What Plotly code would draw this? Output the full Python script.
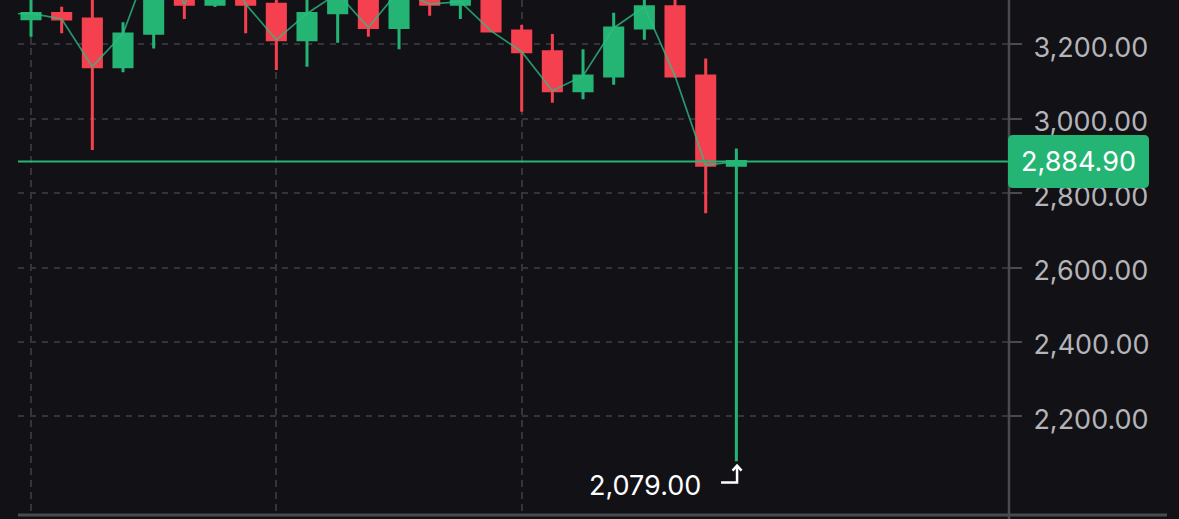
import plotly.graph_objects as go

# ---- data (daily candles; clipped values estimated) ----
dates = ["2025-01-10", "2025-01-11", "2025-01-12", "2025-01-13", "2025-01-14",
         "2025-01-15", "2025-01-16", "2025-01-17", "2025-01-18", "2025-01-19",
         "2025-01-20", "2025-01-21", "2025-01-22", "2025-01-23", "2025-01-24",
         "2025-01-25", "2025-01-26", "2025-01-27", "2025-01-28", "2025-01-29",
         "2025-01-30", "2025-01-31", "2025-02-01", "2025-02-02", "2025-02-03"]
opens = [3220, 3269, 3283, 3268, 3140, 3230, 3450, 3308, 3470, 3308, 3212, 3285,
         3337, 3245, 3345, 3308, 3316, 3236, 3180, 3075, 3115, 3244, 3301, 3115, 2875]
highs = [3320, 3335, 3301, 3340, 3259, 3470, 3475, 3525, 3490, 3440, 3450, 3360,
         3350, 3360, 3420, 3350, 3335, 3252, 3228, 3187, 3285, 3430, 3330, 3162, 2920]
lows = [3190, 3220, 3230, 2916, 3125, 3189, 3268, 3300, 3230, 3131, 3140, 3204,
        3220, 3187, 3277, 3268, 3234, 3019, 3043, 3052, 3091, 3212, 3110, 2746, 2079]
closes = [3281, 3283, 3268, 3140, 3228, 3450, 3308, 3470, 3308, 3212, 3283, 3337,
          3245, 3345, 3308, 3315, 3236, 3180, 3075, 3115, 3244, 3301, 3115, 2875, 2884.90]
idx = list(range(-1, len(dates) - 1))

y_ticks = [2200, 2400, 2600, 2800, 3000, 3200, 3400]
x_grid = [0, 8, 16]

# ---- style ----
BG = "#111116"
GREEN = "#24B574"
RED = "#F5404F"
GRID = "#34343A"
AXIS = "#4A4A50"
LABEL = "#B4B4B9"
FONT = "Inter"
FS = 27

W, H = 1179, 519
ML, MR, MT, MB = 18, 170, 0, 4
PW, PH = W - ML - MR, H - MT - MB
X_RANGE = [-0.424, 31.89]
Y_RANGE = [1934.7, 3319.1]
xpp = (X_RANGE[1] - X_RANGE[0]) / PW   # data units per pixel
ypp = (Y_RANGE[1] - Y_RANGE[0]) / PH

fig = go.Figure()
fig.add_trace(go.Candlestick(
    x=idx, open=opens, high=highs, low=lows, close=closes,
    hovertext=dates,
    increasing=dict(line=dict(color=GREEN, width=3), fillcolor=GREEN),
    decreasing=dict(line=dict(color=RED, width=3), fillcolor=RED),
    whiskerwidth=0, showlegend=False,
))
fig.add_trace(go.Scatter(
    x=idx, y=closes, mode="lines",
    line=dict(color="rgba(46,189,133,0.78)", width=1.7),
    hoverinfo="skip", showlegend=False,
))

last = closes[-1]
low_last = lows[-1]
i_last = idx[-1]

shapes = []
# current price line
shapes.append(dict(type="line", xref="paper", yref="y", x0=0, x1=1, y0=last, y1=last,
                   line=dict(color=GREEN, width=2), layer="above"))
# right axis separator
shapes.append(dict(type="line", xref="paper", yref="paper", x0=1, x1=1, y0=-MB / PH, y1=1,
                   line=dict(color=AXIS, width=2.5), layer="above"))
# bottom axis line
shapes.append(dict(type="line", xref="paper", yref="paper", x0=0, x1=(1167 - ML) / PW, y0=0, y1=0,
                   line=dict(color=AXIS, width=3), layer="above"))
# price tag (rounded rect)
xl, xr = (1008 - ML) / PW, (1149 - ML) / PW
yt, yb = last + 26.5 * ypp, last - 26.5 * ypp
rx, ry = 5 / PW, 5 * ypp
tag = (f"M {xl+rx},{yt} L {xr-rx},{yt} Q {xr},{yt} {xr},{yt-ry} L {xr},{yb+ry} "
       f"Q {xr},{yb} {xr-rx},{yb} L {xl+rx},{yb} Q {xl},{yb} {xl},{yb+ry} "
       f"L {xl},{yt-ry} Q {xl},{yt} {xl+rx},{yt} Z")
shapes.append(dict(type="path", xref="paper", yref="y", path=tag,
                   fillcolor=GREEN, line=dict(width=0), layer="above"))
# low marker arrow
ax0 = i_last + (721 - 736.3) * xpp
ax1 = i_last + (737 - 736.3) * xpp
foot = low_last - 21.2 * ypp
stem_top = low_last - 5.0 * ypp
arrow = f"M {ax0},{foot} L {ax1},{foot} L {ax1},{stem_top}"
shapes.append(dict(type="path", xref="x", yref="y", path=arrow,
                   line=dict(color="white", width=2.5), layer="above"))
head = (f"M {ax1 - 4.5*xpp},{low_last - 9.3*ypp} L {ax1},{low_last - 4.3*ypp} "
        f"L {ax1 + 4.5*xpp},{low_last - 9.3*ypp}")
shapes.append(dict(type="path", xref="x", yref="y", path=head,
                   line=dict(color="white", width=2.5), layer="above"))

annotations = [
    dict(xref="paper", yref="y", x=(1078 - ML) / PW, y=last, text=f"{last:,.2f}",
         showarrow=False, xanchor="center", yanchor="middle",
         font=dict(family=FONT, size=FS, color="white")),
    dict(xref="x", yref="y", x=i_last + (703 - 736.3) * xpp, y=low_last - 24 * ypp,
         text=f"{low_last:,.2f}", showarrow=False, xanchor="right", yanchor="middle",
         font=dict(family=FONT, size=FS, color="white")),
]

fig.update_layout(
    width=W, height=H,
    margin=dict(l=ML, r=MR, t=MT, b=MB, pad=0),
    paper_bgcolor=BG, plot_bgcolor=BG,
    boxgap=0.41, boxgroupgap=0,
    shapes=shapes, annotations=annotations,
    showlegend=False, hovermode=False,
    xaxis=dict(range=X_RANGE, rangeslider=dict(visible=False), showticklabels=False,
               tickvals=x_grid, ticks="", showgrid=True, gridcolor=GRID, gridwidth=2,
               griddash="7px,5px", zeroline=False, showline=False, fixedrange=True),
    yaxis=dict(range=Y_RANGE, side="right", tickvals=y_ticks, tickformat=",.2f",
               ticks="outside", ticklen=12, tickwidth=2, tickcolor=AXIS,
               ticklabelstandoff=6, ticklabelshift=3,
               tickfont=dict(family=FONT, size=FS, color=LABEL),
               showgrid=True, gridcolor=GRID, gridwidth=2, griddash="6px,6px",
               zeroline=False, showline=False, fixedrange=True),
)

fig.write_html(
    "out.html",
    config={"displayModeBar": False},
    post_script=("document.body.style.margin='0';document.body.style.padding='0';"
                 "document.body.style.background='#111116';"
                 "document.body.style.overflow='hidden';"),
)
